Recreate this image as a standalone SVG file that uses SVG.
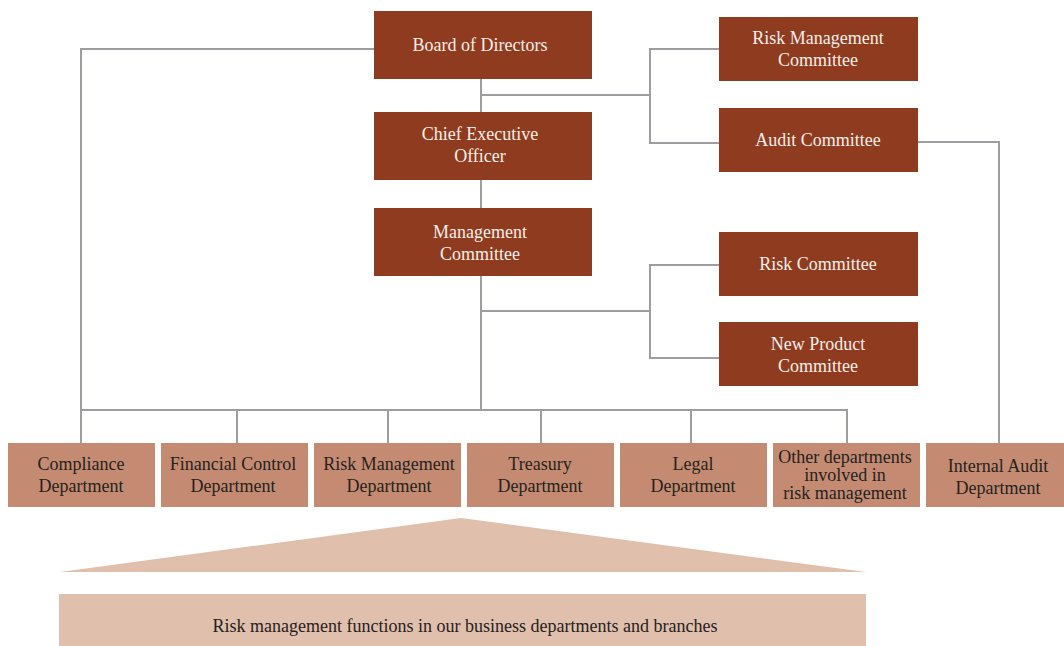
<svg xmlns="http://www.w3.org/2000/svg" width="1064" height="646" viewBox="0 0 1064 646">
<style>
.dk{fill:#8f3b1f}
.lt{fill:#c48b72}
.pl{fill:#e0bfad}
.tw{font-family:"Liberation Serif","Times New Roman",serif;font-size:18px;fill:#f7eee8;text-anchor:middle}
.tb{font-family:"Liberation Serif","Times New Roman",serif;font-size:18px;fill:#262220;text-anchor:middle}
.ln{fill:none;stroke:#9d9ea2;stroke-width:2}
</style>
<rect width="1064" height="646" fill="#ffffff"/>
<g id="connectors">
<path class="ln" d="M374 49 H81 V443"/>
<path class="ln" d="M481 79 V112"/>
<path class="ln" d="M481 95 H650"/>
<path class="ln" d="M719 49 H650 V143 H719"/>
<path class="ln" d="M918 142 H999 V443"/>
<path class="ln" d="M481 180 V208"/>
<path class="ln" d="M481 276 V410"/>
<path class="ln" d="M481 311 H650"/>
<path class="ln" d="M719 265 H650 V358 H719"/>
<path class="ln" d="M81 410 H847 V443"/>
<path class="ln" d="M237 410 V443"/>
<path class="ln" d="M388 410 V443"/>
<path class="ln" d="M541 410 V443"/>
<path class="ln" d="M691 410 V443"/>
</g>
<g id="board"><rect class="dk" x="374" y="11" width="218" height="68"/><text class="tw" x="480" y="51">Board of Directors</text></g>
<g id="ceo"><rect class="dk" x="374" y="112" width="218" height="68"/><text class="tw" x="480" y="140">Chief Executive</text><text class="tw" x="480" y="162">Officer</text></g>
<g id="mgmt"><rect class="dk" x="374" y="208" width="218" height="68"/><text class="tw" x="480" y="238">Management</text><text class="tw" x="480" y="260">Committee</text></g>
<g id="rmc"><rect class="dk" x="719" y="17" width="199" height="64"/><text class="tw" x="818" y="44">Risk Management</text><text class="tw" x="818" y="66">Committee</text></g>
<g id="audit"><rect class="dk" x="719" y="108" width="199" height="64"/><text class="tw" x="818" y="146">Audit Committee</text></g>
<g id="riskc"><rect class="dk" x="719" y="232" width="199" height="64"/><text class="tw" x="818" y="270">Risk Committee</text></g>
<g id="newprod"><rect class="dk" x="719" y="322" width="199" height="64"/><text class="tw" x="818" y="350">New Product</text><text class="tw" x="818" y="372">Committee</text></g>
<g id="compliance"><rect class="lt" x="8" y="443" width="147" height="64"/><text class="tb" x="81" y="470">Compliance</text><text class="tb" x="81" y="492">Department</text></g>
<g id="financial"><rect class="lt" x="161" y="443" width="147" height="64"/><text class="tb" x="233" y="470">Financial Control</text><text class="tb" x="233" y="492">Department</text></g>
<g id="riskdept"><rect class="lt" x="314" y="443" width="147" height="64"/><text class="tb" x="389" y="470">Risk Management</text><text class="tb" x="389" y="492">Department</text></g>
<g id="treasury"><rect class="lt" x="467" y="443" width="147" height="64"/><text class="tb" x="540" y="470">Treasury</text><text class="tb" x="540" y="492">Department</text></g>
<g id="legal"><rect class="lt" x="620" y="443" width="147" height="64"/><text class="tb" x="693" y="470">Legal</text><text class="tb" x="693" y="492">Department</text></g>
<g id="other"><rect class="lt" x="773" y="443" width="147" height="64"/><text class="tb" x="845" y="463">Other departments</text><text class="tb" x="845" y="481">involved in</text><text class="tb" x="845" y="499">risk management</text></g>
<g id="internal"><rect class="lt" x="926" y="443" width="138" height="64"/><text class="tb" x="998" y="472">Internal Audit</text><text class="tb" x="998" y="494">Department</text></g>
<g id="functions">
<polygon class="pl" points="461,518 866,572 60,572"/>
<rect class="pl" x="59" y="594" width="807" height="52"/>
<text class="tb" x="465" y="632">Risk management functions in our business departments and branches</text>
</g>
</svg>
